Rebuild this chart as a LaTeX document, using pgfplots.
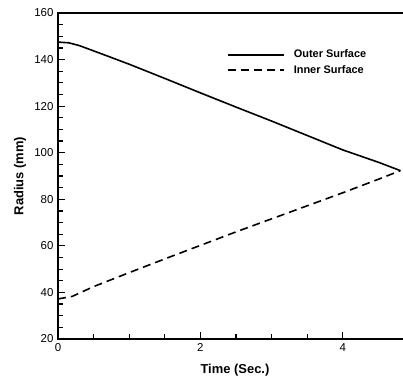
\documentclass[border=0pt]{standalone}
\usepackage{fontspec}
\setmainfont{Liberation Sans}
\usepackage{pgfplots}
\pgfplotsset{compat=1.18}
\begin{document}
\begin{tikzpicture}
\useasboundingbox (-58bp,-39bp) rectangle (345bp,339bp);
\begin{axis}[
  at={(0,0)}, anchor=south west,
  scale only axis, width=347bp, height=326bp,
  xmin=0, xmax=4.874, ymin=20, ymax=160,
  xtick={0,2,4}, ytick={20,40,...,160},
  minor x tick num=3, minor y tick num=3,
  xtick pos=bottom, ytick pos=left,
  tick align=inside,
  major tick length=7bp, minor tick length=5bp,
  axis line style={line width=1.6bp},
  every tick/.style={black, line width=1.2bp},
  /pgf/number format/assume math mode=true,
  ticklabel style={font=\fontsize{11.5}{13}\selectfont},
  xticklabel style={yshift=-1bp},
  yticklabel style={xshift=-1bp},
  xlabel={Time (Sec.)},
  ylabel={Radius (mm)},
  every axis x label/.style={at={(axis description cs:0.51,0)}, anchor=north, yshift=-24.5bp, inner sep=0pt, font=\bfseries\fontsize{13}{15}\selectfont},
  every axis y label/.style={at={(axis description cs:0,0.5)}, xshift=-38bp, rotate=90, anchor=center, inner sep=0pt, font=\bfseries\fontsize{13}{15}\selectfont},
  legend style={at={(axis description cs:0.487,0.89)}, anchor=north west, draw=none, fill=none,
    font=\bfseries\fontsize{11}{13}\selectfont, inner sep=0pt, row sep=4bp,
    nodes={inner sep=1pt}},
  legend cell align=left,
  legend image code/.code={\draw[#1] (0bp,0bp) -- (56bp,0bp); \path (64bp,0bp);},
]
\addplot[black, line width=1.6bp] coordinates {
(0,147.5) (0.15,147.2) (0.3,146.0) (0.6,142.6) (1,138.0) (1.5,131.9) (2,125.7) (2.5,119.6) (3,113.6) (3.5,107.4) (4,101.2) (4.5,95.9) (4.81,92.3)
};
\addlegendentry{Outer Surface}
\addplot[black, line width=1.6bp, dash pattern=on 8bp off 5bp] coordinates {
(0,37.2) (0.2,38.3) (0.5,42.5) (1,48.5) (1.5,54.4) (2,60.2) (2.5,66.0) (3,71.6) (3.5,77.2) (4,82.8) (4.5,88.6) (4.81,92.3)
};
\addlegendentry{Inner Surface}
\end{axis}
\end{tikzpicture}
\end{document}
